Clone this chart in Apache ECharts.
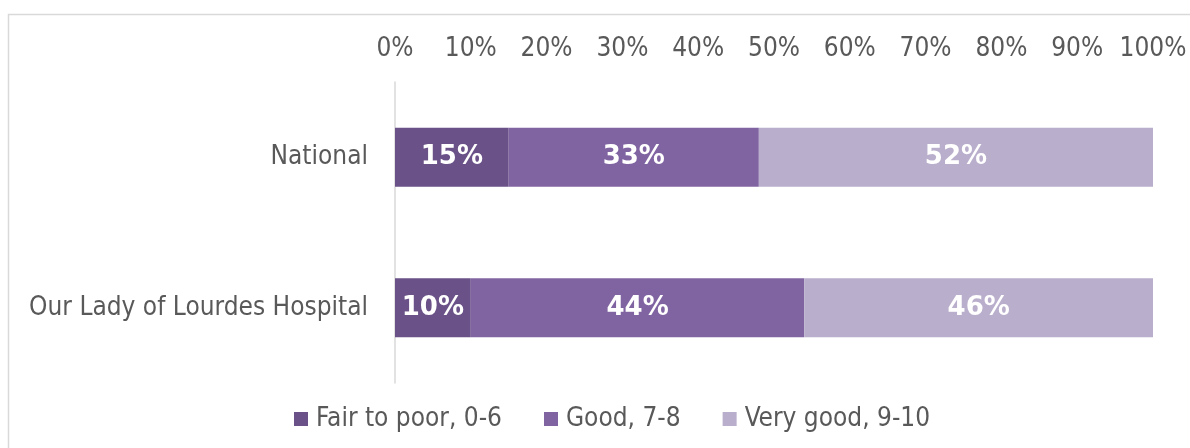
<!DOCTYPE html>
<html>
<head>
<meta charset="utf-8">
<script src="https://cdn.jsdelivr.net/npm/echarts@6/dist/echarts.min.js"></script>
<style>
html,body{margin:0;padding:0;background:#fff;}
#main{width:1190px;height:448px;}
</style>
</head>
<body>
<div id="main"></div>
<script>
var categories = ['National', 'Our Lady of Lourdes Hospital'];
var seriesNames = ['Fair to poor, 0-6', 'Good, 7-8', 'Very good, 9-10'];
var fairToPoor = [15, 10];
var good = [33, 44];
var veryGood = [52, 46];
var tickLabels = ['0%','10%','20%','30%','40%','50%','60%','70%','80%','90%','100%'];

var colors = ['#6a5187', '#8064a2', '#b9aecb'];
var font = 'DejaVu Sans Condensed';

function makeSeries(name, data, color){
	return {
		name: name,
		type: 'bar',
		stack: 'total',
		barWidth: 59,
		data: data,
		itemStyle: { color: color },
		label: {
			show: true,
			position: 'inside',
			formatter: '{c}%',
			color: '#fff',
			fontFamily: 'DejaVu Sans',
			fontWeight: 'bold',
			fontSize: 26
		}
	};
}

var myChart = echarts.init(document.getElementById('main'));
var option = {
	animation: false,
	graphic: [{
		type: 'rect',
		shape: { x: 8.5, y: 14.5, width: 1300, height: 600 },
		style: { fill: 'none', stroke: '#d9d9d9', lineWidth: 1.5 },
		silent: true
	}],
	grid: { left: 395, right: 37, top: 82, bottom: 65 },
	legend: {
		bottom: 11,
		left: 289,
		icon: 'rect',
		itemWidth: 14,
		itemHeight: 14,
		itemGap: 42,
		data: seriesNames,
		textStyle: { color: '#595959', fontFamily: font, fontSize: 26, padding: [0, 0, 0, 3] }
	},
	xAxis: {
		type: 'value',
		position: 'top',
		min: 0,
		max: 100,
		interval: 10,
		axisLine: { show: false },
		axisTick: { show: false },
		splitLine: { show: false },
		axisLabel: {
			color: '#595959',
			fontFamily: font,
			fontSize: 26,
			margin: 20,
			formatter: function(v){ return tickLabels[Math.round(v / 10)]; }
		}
	},
	yAxis: {
		type: 'category',
		inverse: true,
		data: categories,
		axisLine: { show: true, lineStyle: { color: '#d9d9d9', width: 1.5 } },
		axisTick: { show: false },
		axisLabel: { color: '#595959', fontFamily: font, fontSize: 26, margin: 27 }
	},
	series: [
		makeSeries(seriesNames[0], fairToPoor, colors[0]),
		makeSeries(seriesNames[1], good, colors[1]),
		makeSeries(seriesNames[2], veryGood, colors[2])
	]
};
myChart.setOption(option);
</script>
</body>
</html>
